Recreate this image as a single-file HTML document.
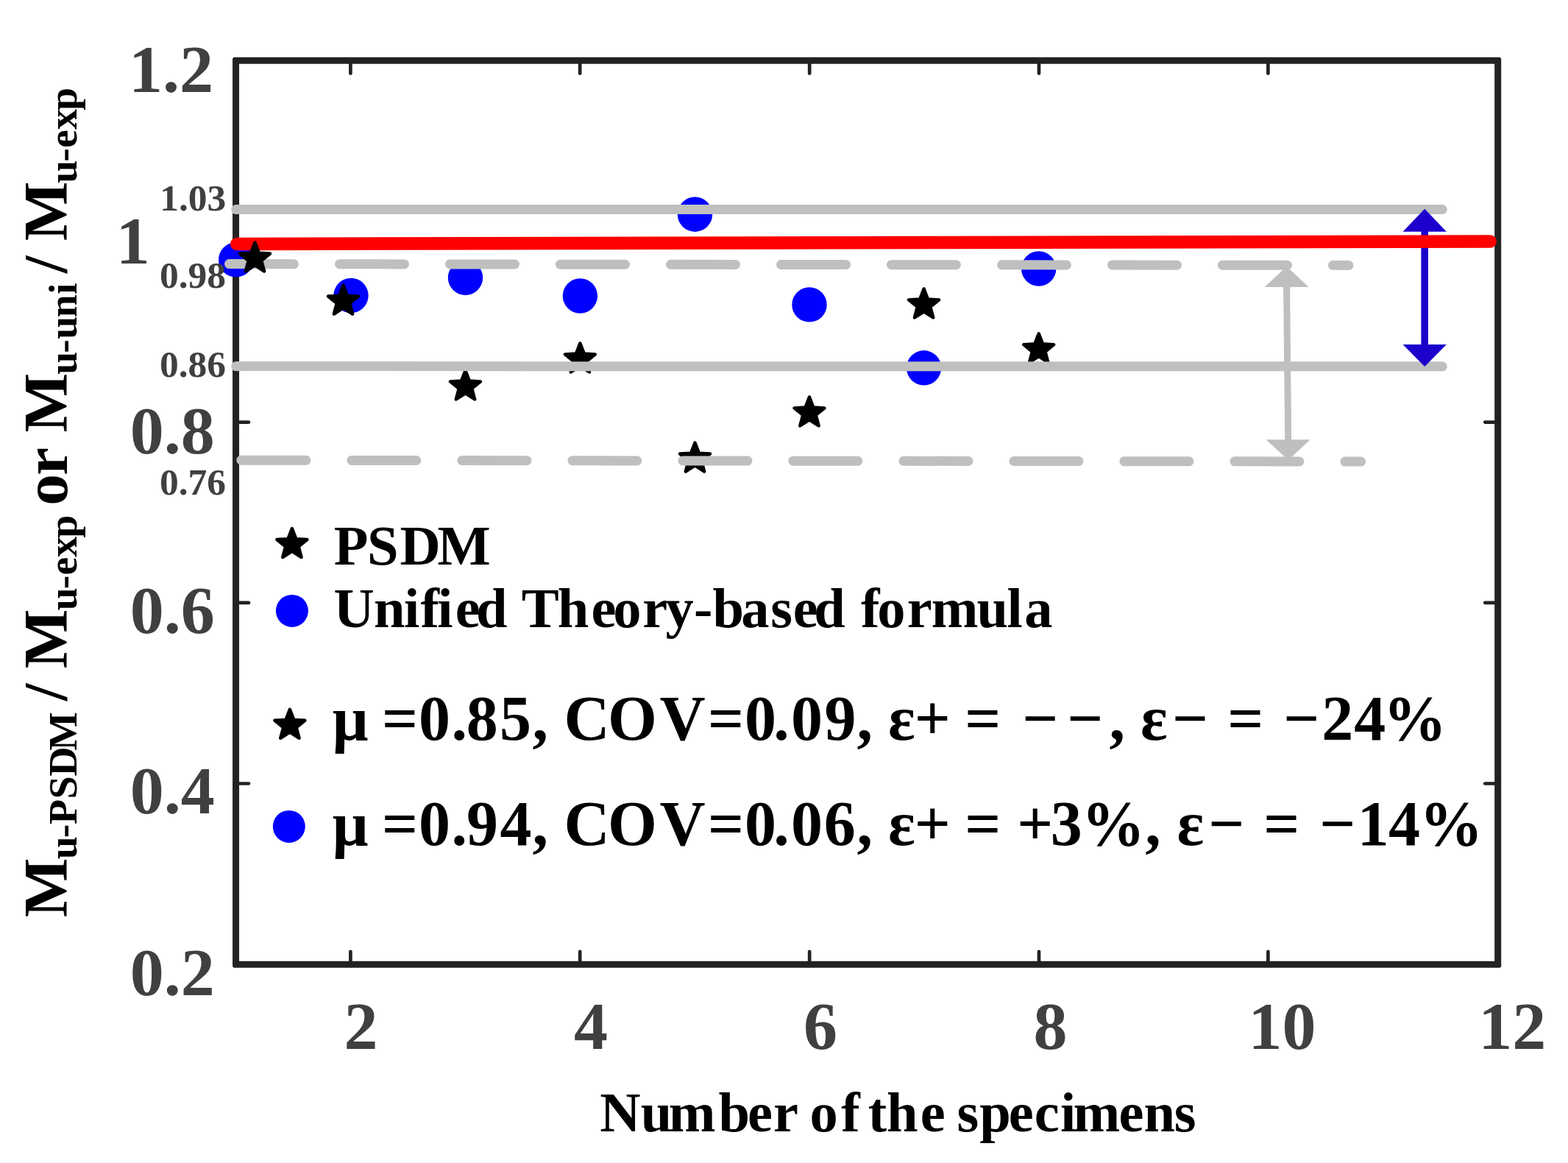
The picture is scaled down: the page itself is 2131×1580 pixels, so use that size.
<!DOCTYPE html>
<html lang="en"><head><meta charset="utf-8"><title>Mu-PSDM / Mu-exp or Mu-uni / Mu-exp versus number of the specimens</title>
<style>html,body{margin:0;padding:0;background:#fff;}body{width:2131px;height:1580px;overflow:hidden;}svg{display:block;}text{font-family:"Liberation Serif","Times New Roman",serif;font-weight:bold;white-space:pre;font-kerning:none;font-variant-ligatures:none;}</style>
</head><body>
<svg width="2131" height="1580" viewBox="0 0 2131 1580">
<rect x="0" y="0" width="2131" height="1580" fill="#ffffff"/>
<path fill-rule="evenodd" fill="#222222" d="M317.85 77.80L2038.40 77.80L2040.20 79.60L2040.20 1312.90L2038.40 1314.70L317.85 1314.70L316.05 1312.90L316.05 79.60Z M325.05 86.80L2031.20 86.80L2031.20 1305.70L325.05 1305.70Z"/>
<line x1="476.4" y1="1310.2" x2="476.4" y2="1292.75" stroke="#222222" stroke-width="4.7" stroke-linecap="round"/>
<line x1="476.4" y1="82.3" x2="476.4" y2="99.75" stroke="#222222" stroke-width="4.7" stroke-linecap="round"/>
<line x1="788.2" y1="1310.2" x2="788.2" y2="1292.75" stroke="#222222" stroke-width="4.7" stroke-linecap="round"/>
<line x1="788.2" y1="82.3" x2="788.2" y2="99.75" stroke="#222222" stroke-width="4.7" stroke-linecap="round"/>
<line x1="1100.2" y1="1310.2" x2="1100.2" y2="1292.75" stroke="#222222" stroke-width="4.7" stroke-linecap="round"/>
<line x1="1100.2" y1="82.3" x2="1100.2" y2="99.75" stroke="#222222" stroke-width="4.7" stroke-linecap="round"/>
<line x1="1412.0" y1="1310.2" x2="1412.0" y2="1292.75" stroke="#222222" stroke-width="4.7" stroke-linecap="round"/>
<line x1="1412.0" y1="82.3" x2="1412.0" y2="99.75" stroke="#222222" stroke-width="4.7" stroke-linecap="round"/>
<line x1="1723.4" y1="1310.2" x2="1723.4" y2="1292.75" stroke="#222222" stroke-width="4.7" stroke-linecap="round"/>
<line x1="1723.4" y1="82.3" x2="1723.4" y2="99.75" stroke="#222222" stroke-width="4.7" stroke-linecap="round"/>
<line x1="320.55" y1="573.6" x2="338.0" y2="573.6" stroke="#222222" stroke-width="4.7" stroke-linecap="round"/>
<line x1="2035.7" y1="573.6" x2="2018.25" y2="573.6" stroke="#222222" stroke-width="4.7" stroke-linecap="round"/>
<line x1="320.55" y1="818.9" x2="338.0" y2="818.9" stroke="#222222" stroke-width="4.7" stroke-linecap="round"/>
<line x1="2035.7" y1="818.9" x2="2018.25" y2="818.9" stroke="#222222" stroke-width="4.7" stroke-linecap="round"/>
<line x1="320.55" y1="1064.5" x2="338.0" y2="1064.5" stroke="#222222" stroke-width="4.7" stroke-linecap="round"/>
<line x1="2035.7" y1="1064.5" x2="2018.25" y2="1064.5" stroke="#222222" stroke-width="4.7" stroke-linecap="round"/>
<circle cx="320.7" cy="352.9" r="23.7" fill="#0000ff"/>
<circle cx="477.0" cy="401.5" r="23.7" fill="#0000ff"/>
<circle cx="632.5" cy="377.3" r="23.7" fill="#0000ff"/>
<circle cx="788.4" cy="402.0" r="23.7" fill="#0000ff"/>
<circle cx="944.5" cy="291.2" r="23.7" fill="#0000ff"/>
<circle cx="1100.0" cy="413.9" r="23.7" fill="#0000ff"/>
<circle cx="1255.6" cy="499.8" r="23.7" fill="#0000ff"/>
<circle cx="1411.7" cy="365.0" r="23.7" fill="#0000ff"/>
<polygon points="632.50,503.40 637.96,517.49 653.04,518.33 641.33,527.87 645.20,542.47 632.50,534.29 619.80,542.47 623.67,527.87 611.96,518.33 627.04,517.49" fill="#000" stroke="#000" stroke-width="4.4" stroke-linejoin="round"/>
<polygon points="788.40,466.40 793.86,480.49 808.94,481.33 797.23,490.87 801.10,505.47 788.40,497.29 775.70,505.47 779.57,490.87 767.86,481.33 782.94,480.49" fill="#000" stroke="#000" stroke-width="4.4" stroke-linejoin="round"/>
<polygon points="944.50,601.50 949.96,615.59 965.04,616.43 953.33,625.97 957.20,640.57 944.50,632.39 931.80,640.57 935.67,625.97 923.96,616.43 939.04,615.59" fill="#000" stroke="#000" stroke-width="4.4" stroke-linejoin="round"/>
<polygon points="1100.00,539.40 1105.46,553.49 1120.54,554.33 1108.83,563.87 1112.70,578.47 1100.00,570.29 1087.30,578.47 1091.17,563.87 1079.46,554.33 1094.54,553.49" fill="#000" stroke="#000" stroke-width="4.4" stroke-linejoin="round"/>
<polygon points="1255.60,392.40 1261.06,406.49 1276.14,407.33 1264.43,416.87 1268.30,431.47 1255.60,423.29 1242.90,431.47 1246.77,416.87 1235.06,407.33 1250.14,406.49" fill="#000" stroke="#000" stroke-width="4.4" stroke-linejoin="round"/>
<polygon points="1411.70,453.20 1417.16,467.29 1432.24,468.13 1420.53,477.67 1424.40,492.27 1411.70,484.09 1399.00,492.27 1402.87,477.67 1391.16,468.13 1406.24,467.29" fill="#000" stroke="#000" stroke-width="4.4" stroke-linejoin="round"/>
<polygon points="466.50,387.60 471.96,401.69 487.04,402.53 475.33,412.07 479.20,426.67 466.50,418.49 453.80,426.67 457.67,412.07 445.96,402.53 461.04,401.69" fill="#000" stroke="#000" stroke-width="4.4" stroke-linejoin="round"/>
<line x1="1748.6" y1="389.0" x2="1750.7" y2="598.3" stroke="#bfbfbf" stroke-width="9.0"/><polygon points="1748.6,362.0 1718.6,390.0 1778.6,390.0" fill="#bfbfbf"/><polygon points="1750.7,625.0 1720.7,597.3 1780.7,597.3" fill="#bfbfbf"/>
<line x1="320.7" y1="284.6" x2="1960.3" y2="284.6" stroke="#bfbfbf" stroke-width="13.0" stroke-linecap="round"/>
<line x1="320.7" y1="497.6" x2="1960.3" y2="497.8" stroke="#bfbfbf" stroke-width="13.0" stroke-linecap="round"/>
<path d="M311.5 358.60L399.5 358.72M461.5 358.78L549.5 358.89M611.5 358.95L699.5 359.07M761.5 359.13L849.5 359.25M911.5 359.30L999.5 359.42M1061.5 359.48L1149.5 359.60M1211.5 359.66L1299.5 359.77M1361.5 359.83L1449.5 359.95M1511.5 360.01L1599.5 360.13M1661.5 360.18L1749.5 360.30M1811.5 360.36L1832.9 360.40" fill="none" stroke="#bfbfbf" stroke-width="13.0" stroke-linecap="round"/>
<path d="M327.9 625.20L415.9 625.33M477.9 625.39L565.9 625.51M627.9 625.57L715.9 625.70M777.9 625.76L865.9 625.88M927.9 625.94L1015.9 626.07M1077.9 626.13L1165.9 626.25M1227.9 626.31L1315.9 626.44M1377.9 626.50L1465.9 626.62M1527.9 626.69L1615.9 626.81M1677.9 626.87L1765.9 627.00M1827.9 627.06L1849.6 627.10" fill="none" stroke="#bfbfbf" stroke-width="13.0" stroke-linecap="round"/>
<line x1="1936.2" y1="313.8" x2="1936.2" y2="469.0" stroke="#1c00cc" stroke-width="9.6"/><polygon points="1936.2,283.8 1906.55,314.8 1965.8500000000001,314.8" fill="#1c00cc"/><polygon points="1936.2,498.0 1906.55,468.0 1965.8500000000001,468.0" fill="#1c00cc"/>
<line x1="321.65" y1="331.4" x2="2025.25" y2="328.0" stroke="#fe0000" stroke-width="17.5" stroke-linecap="round"/>
<polygon points="346.50,329.50 351.96,343.59 367.04,344.43 355.33,353.97 359.20,368.57 346.50,360.39 333.80,368.57 337.67,353.97 325.96,344.43 341.04,343.59" fill="#000" stroke="#000" stroke-width="4.4" stroke-linejoin="round"/>
<text x="174.9" y="124.8" font-size="92" fill="#404040" >1.2</text>
<text x="157.8" y="357.8" font-size="92" fill="#404040" >1</text>
<text x="176.7" y="616.2" font-size="92" fill="#404040" >0.8</text>
<text x="176.7" y="859.6" font-size="92" fill="#404040" >0.6</text>
<text x="176.7" y="1105.3" font-size="92" fill="#404040" >0.4</text>
<text x="176.7" y="1352.3" font-size="92" fill="#404040" >0.2</text>
<text x="467.5" y="1425.3" font-size="92" fill="#404040" >2</text>
<text x="779.9" y="1425.3" font-size="92" fill="#404040" >4</text>
<text x="1092.0" y="1425.3" font-size="92" fill="#404040" >6</text>
<text x="1404.6" y="1425.3" font-size="92" fill="#404040" >8</text>
<text x="1696.4" y="1425.3" font-size="92" fill="#404040" >10</text>
<text x="2009.3" y="1425.3" font-size="92" fill="#404040" >12</text>
<text x="217.2" y="286.0" font-size="51.5" fill="#404040" >1.03</text>
<text x="216.9" y="391.3" font-size="51.5" fill="#404040" >0.98</text>
<text x="216.9" y="511.8" font-size="51.5" fill="#404040" >0.86</text>
<text x="216.9" y="671.6" font-size="51.5" fill="#404040" >0.76</text>
<polygon points="396.90,718.00 402.36,732.09 417.44,732.93 405.73,742.47 409.60,757.07 396.90,748.89 384.20,757.07 388.07,742.47 376.36,732.93 391.44,732.09" fill="#000" stroke="#000" stroke-width="4.4" stroke-linejoin="round"/>
<text x="453.7 498.9 543.6 594.5" y="766.9" font-size="76.5" fill="#000">PSDM</text>
<circle cx="396.9" cy="829.9" r="22" fill="#0000ff"/>
<text x="453.4 507.9 549.1 571.4 594.3 618.7 647.1 689.6 708.7 757.8 803.6 833.3 873.2 904.4 942.9 968.5 1007.2 1047.3 1077.8 1106.2 1148.8 1170.1 1192.3 1232.7 1265.8 1327.6 1368.5 1392.3" y="852.2" font-size="76.5" fill="#000">Unified Theory-based formula</text>
<polygon points="393.90,963.80 399.36,977.89 414.44,978.73 402.73,988.27 406.60,1002.87 393.90,994.69 381.20,1002.87 385.07,988.27 373.36,978.73 388.44,977.89" fill="#000" stroke="#000" stroke-width="4.4" stroke-linejoin="round"/>
<text x="451.8 500.5 519.1 569.1 613.5 633.7 679.1 723.4 744.9 766.5 825.9 896.5 962.1 1012.0 1051.2 1075.0 1120.4 1164.6 1186.1 1207.0 1242.7 1291.7 1311.3 1360.3 1389.1 1438.1 1449.9 1507.4 1528.9 1550.1 1592.8 1641.8 1668.3 1717.3 1744.1 1796.2 1840.2 1880.1" y="1005.1" font-size="86.0" fill="#000">μ =0.85, COV=0.09, ε+ = − −, ε− = −24%</text>
<circle cx="392.8" cy="1122.9" r="22" fill="#0000ff"/>
<text x="451.8 500.5 519.1 569.1 613.5 634.1 679.4 723.4 744.9 766.5 825.9 896.5 962.1 1012.0 1051.2 1075.0 1119.8 1164.6 1186.1 1207.0 1242.7 1291.7 1311.3 1360.3 1382.3 1427.7 1470.0 1556.2 1577.7 1599.4 1641.9 1690.9 1717.3 1766.3 1793.0 1844.7 1887.1 1929.2" y="1148.2" font-size="86.0" fill="#000">μ =0.94, COV=0.06, ε+ = +3%, ε− = −14%</text>
<text x="815.2 870.7 908.7 976.4 1015.9 1050.9 1084.8 1100.6 1143.3 1168.8 1179.7 1204.9 1250.8 1284.7 1300.4 1331.3 1370.8 1405.7 1441.1 1458.5 1520.6 1554.5 1595.7" y="1537.2" font-size="76.5" fill="#000">Number of the specimens</text>
<text transform="rotate(-90)" fill="#000"><tspan x="-1246.2" y="91.0" font-size="85.5">M</tspan><tspan x="-1167.2 -1138.2 -1120.1 -1085.5 -1054.7 -1019.8" y="104.1" font-size="55.8">u-PSDM</tspan><tspan x="-973.7 -952.3 -929.7 -908.3" y="91.0" font-size="85.5"> / M</tspan><tspan x="-829.3 -800.3 -781.6 -756.7 -730.7" y="104.1" font-size="55.8">u-exp</tspan><tspan x="-708.2 -686.8 -645.7 -608.9 -587.5" y="91.0" font-size="85.5"> or M</tspan><tspan x="-508.7 -479.7 -460.7 -431.3 -400.1" y="104.1" font-size="55.8">u-uni</tspan><tspan x="-392.7 -371.3 -348.6 -327.2" y="91.0" font-size="85.5"> / M</tspan><tspan x="-248.7 -219.7 -201.0 -176.1 -150.1" y="104.1" font-size="55.8">u-exp</tspan></text>
</svg></body></html>
